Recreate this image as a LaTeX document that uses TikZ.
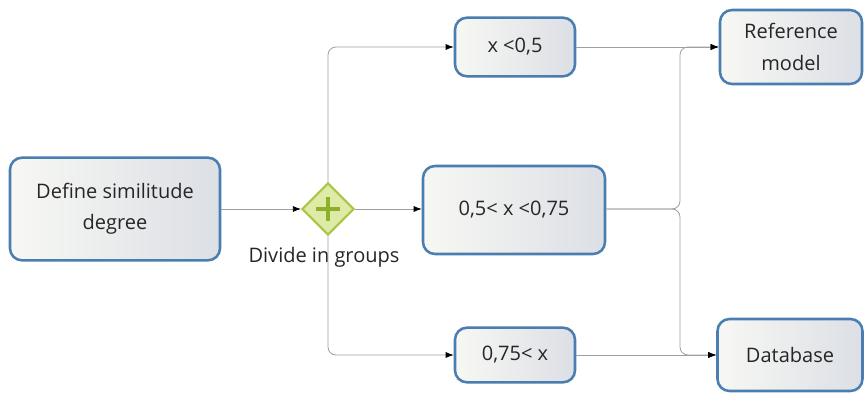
\documentclass[tikz,border=0pt]{standalone}
\usepackage{fontspec}
\setmainfont{Open Sans}
\usetikzlibrary{arrows.meta,shapes.geometric,calc}
\definecolor{boxborder}{HTML}{4A7EB0}
\definecolor{boxlight}{HTML}{F7F8F4}
\definecolor{boxdark}{HTML}{DCDFE5}
\definecolor{gwfill}{HTML}{DDEBA6}
\definecolor{gwborder}{HTML}{A9C546}
\definecolor{gwplus}{HTML}{8DB02A}
\definecolor{conncol}{HTML}{A0A0A0}
\definecolor{txt}{HTML}{262626}
\begin{document}
\begin{tikzpicture}[x=0.75pt,y=-0.75pt,
  task/.style={draw=boxborder, line width=1.9pt, rounded corners=9pt,
    left color=boxlight, right color=boxdark, text=txt, align=center,
    font=\fontsize{15}{23.5}\selectfont, inner sep=0pt},
  conn/.style={draw=conncol, line width=0.6pt, rounded corners=6pt,
    -{Latex[color=black,length=6pt,width=4.5pt]}},
  gwstyle/.style={diamond, draw=gwborder, line width=1.6pt, fill=gwfill,
    minimum width=39pt, minimum height=39pt, inner sep=0pt}]
\useasboundingbox (0,0) rectangle (865,393);
\fill[white] (0,0) rectangle (865,393);
\node[task, minimum width=157.5pt, minimum height=77pt] (def) at (115,209) {Define similitude\\degree};
\node[gwstyle] (gw) at (328,209) {};
\draw[gwplus, line width=3.2pt] ($(gw.center)+(0,-12)$) -- ($(gw.center)+(0,12)$);
\draw[gwplus, line width=3.2pt] ($(gw.center)+(-12,0)$) -- ($(gw.center)+(12,0)$);
\node[text=txt, font=\fontsize{15}{21}\selectfont] (lbl) at (324,257) {Divide in groups};
\node[task, minimum width=90pt, minimum height=44pt] (x1) at (515,47) {x <0,5};
\node[task, minimum width=136.5pt, minimum height=66pt] (mid) at (514,210) {0,5< x <0,75};
\node[task, minimum width=90pt, minimum height=41pt] (x3) at (515,355) {0,75< x};
\node[task, minimum width=106.5pt, minimum height=55.5pt] (ref) at (791,47) {Reference\\model};
\node[task, minimum width=108.75pt, minimum height=54pt] (db) at (790,355) {Database};
\coordinate (j) at (680,209);
\draw[conn] (def) -- (gw);
\draw[conn] (gw.north) |- (x1.west);
\draw[conn] (gw.east) -- (gw.east -| mid.west);
\draw[conn] (gw.south) |- (x3.west);
\draw[conn] (x1) -- (ref);
\draw[conn] (x3) -- (db);
\draw[conn] (j -| mid.east) -- (j) |- (ref.west);
\draw[conn] (j -| mid.east) -- (j) |- (db.west);
\end{tikzpicture}
\end{document}
